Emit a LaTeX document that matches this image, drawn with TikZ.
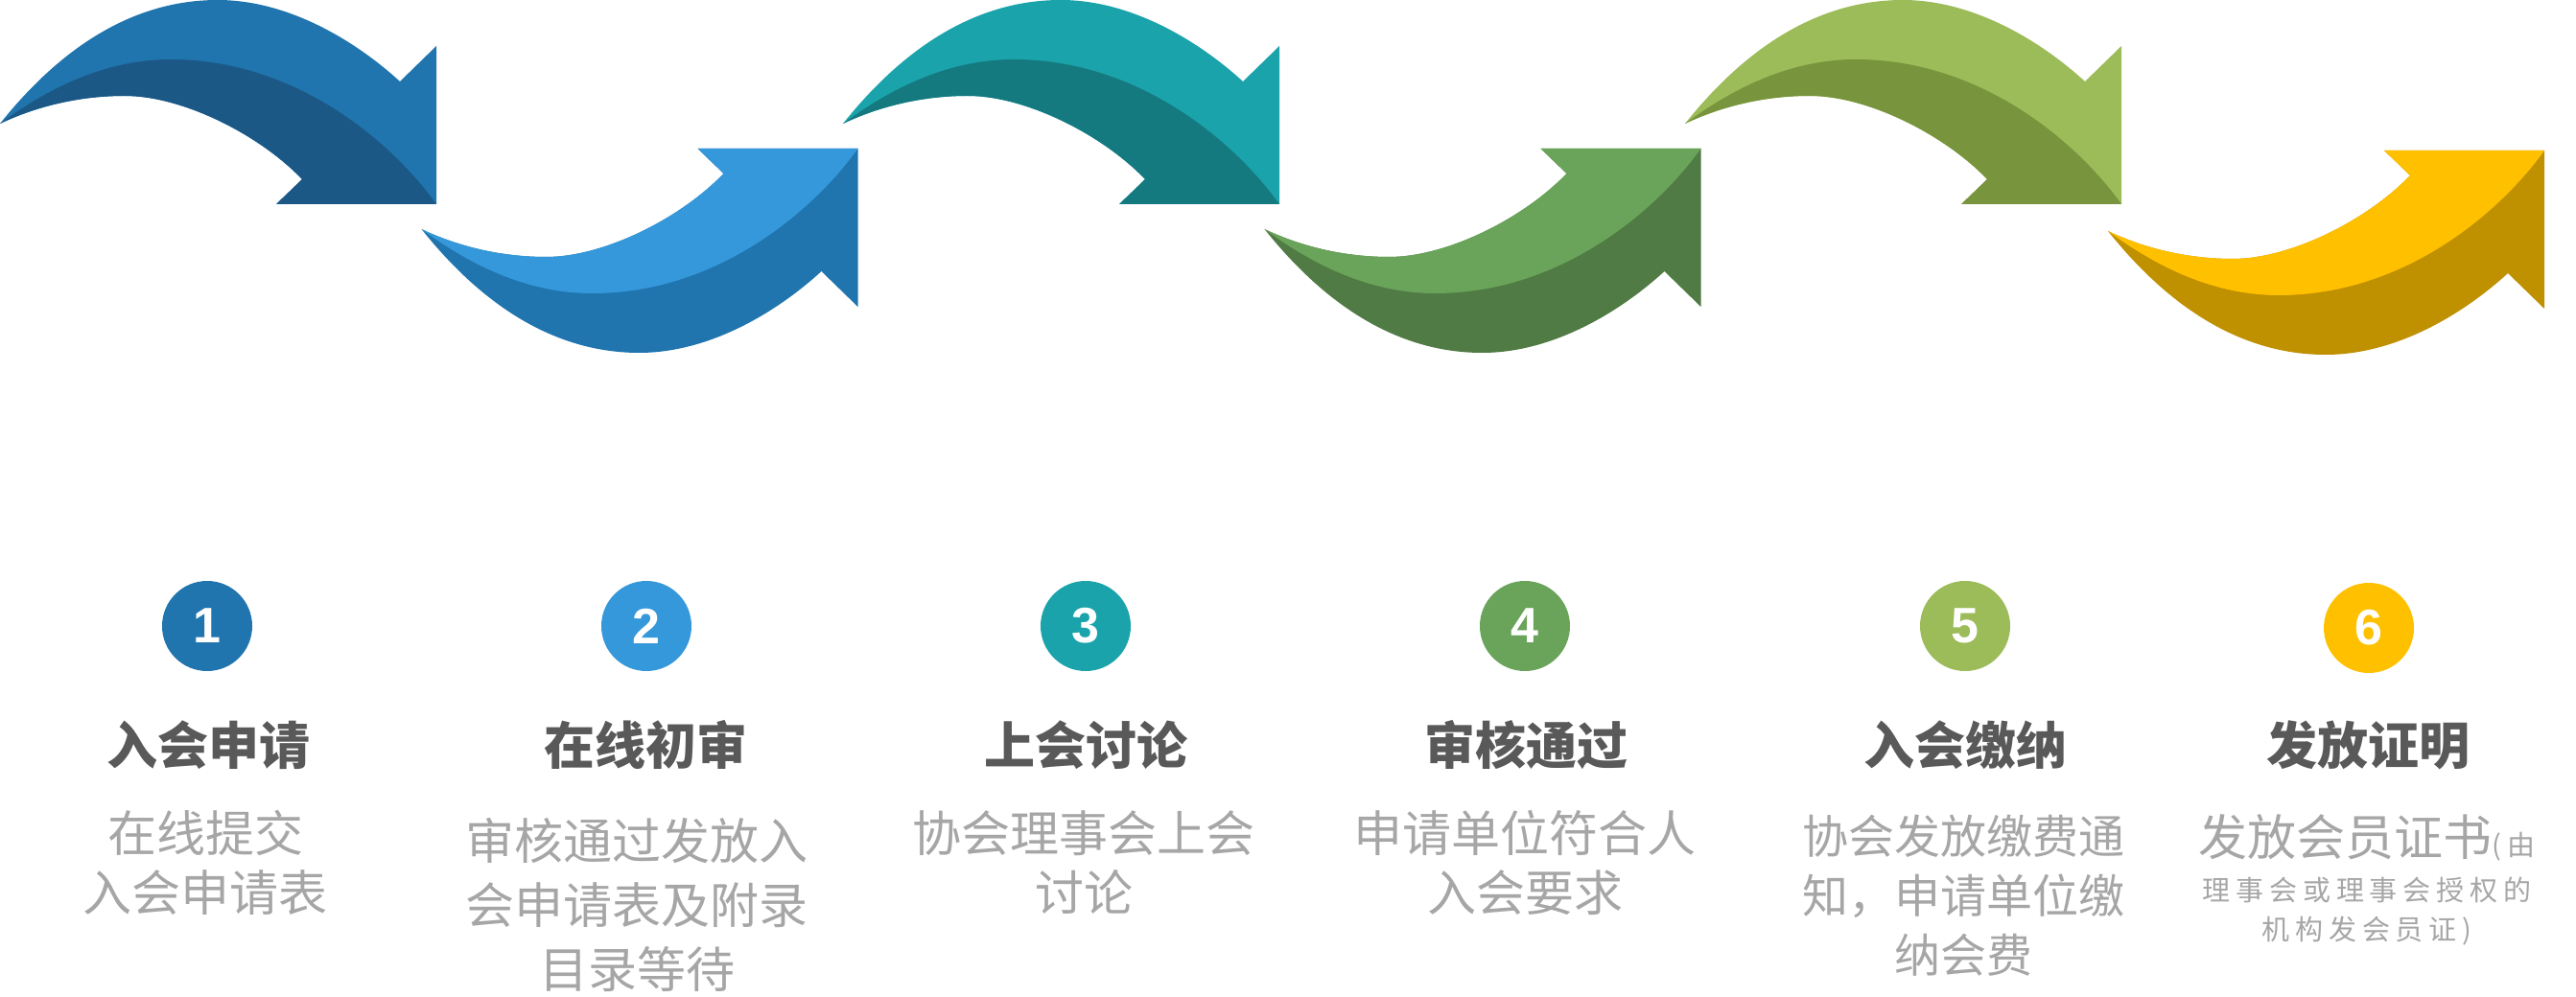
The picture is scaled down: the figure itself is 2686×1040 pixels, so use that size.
\documentclass[tikz,border=0pt]{standalone}
\usepackage{fontspec}
\newfontfamily\cjk{Noto Sans CJK SC}
\newfontfamily\cjkspaced[LetterSpace=20]{Noto Sans CJK SC}
\newfontfamily\numfont{Liberation Sans}
\definecolor{blueA}{HTML}{2175AE}
\definecolor{blueAdark}{HTML}{1B5886}
\definecolor{blueB}{HTML}{3598DB}
\definecolor{tealA}{HTML}{1BA3AB}
\definecolor{tealAdark}{HTML}{157A80}
\definecolor{greenA}{HTML}{6AA35A}
\definecolor{greenAdark}{HTML}{507B44}
\definecolor{oliveA}{HTML}{9CBB59}
\definecolor{oliveAdark}{HTML}{78943D}
\definecolor{goldA}{HTML}{FFC000}
\definecolor{goldAdark}{HTML}{BF9000}
\definecolor{titlegray}{HTML}{595959}
\definecolor{descgray}{HTML}{A6A6A6}
% #1 transform, #2 outer colour, #3 inner colour
\newcommand{\procarrow}[3]{%
  \begin{scope}[#1]
    \fill[#2] (0,129) .. controls (55,60) and (130,0) .. (227,0)
      .. controls (300,0) and (370,42) .. (417,85) -- (455,48) -- (455,213)
      -- (288,213) -- (315,187) .. controls (270,140) and (190,100) .. (130,100)
      .. controls (85,100) and (40,110) .. (0,129) -- cycle;
    \fill[#3] (0,129) .. controls (50,92) and (110,62) .. (178,62)
      .. controls (310,62) and (410,150) .. (455,213)
      -- (288,213) -- (315,187) .. controls (270,140) and (190,100) .. (130,100)
      .. controls (85,100) and (40,110) .. (0,129) -- cycle;
  \end{scope}}
\begin{document}
\begin{tikzpicture}[x=1pt,y=-1pt,
  numcircle/.style={circle, minimum size=94pt, inner sep=0pt, text=white,
    font=\numfont\bfseries\fontsize{52}{52}\selectfont},
  titletext/.style={text=titlegray, inner sep=0pt,
    font=\cjk\bfseries\fontsize{53}{60}\selectfont},
  desctext/.style={text=descgray, inner sep=0pt, align=center,
    font=\cjk\fontsize{51}{62}\selectfont}]
\useasboundingbox[fill=white] (0,0) rectangle (2686,1040);

% arrows
\procarrow{shift={(0,0)}}{blueA}{blueAdark}
\procarrow{shift={(439.5,368)},yscale=-1}{blueA}{blueB}
\procarrow{shift={(879,0)}}{tealA}{tealAdark}
\procarrow{shift={(1318.5,368)},yscale=-1}{greenAdark}{greenA}
\procarrow{shift={(1757,0)}}{oliveA}{oliveAdark}
\procarrow{shift={(2198,370)},yscale=-1}{goldAdark}{goldA}

% number circles
\node[numcircle, fill=blueA]  (n1) at (216,653)  {1};
\node[numcircle, fill=blueB]  (n2) at (674,653)  {2};
\node[numcircle, fill=tealA]  (n3) at (1132,653) {3};
\node[numcircle, fill=greenA] (n4) at (1590,653) {4};
\node[numcircle, fill=oliveA] (n5) at (2049,653) {5};
\node[numcircle, fill=goldA]  (n6) at (2470,655) {6};

% titles
\node[titletext] (t1) at (217,777)  {入会申请};
\node[titletext] (t2) at (673,777)  {在线初审};
\node[titletext] (t3) at (1132,777) {上会讨论};
\node[titletext] (t4) at (1591,777) {审核通过};
\node[titletext] (t5) at (2049,777) {入会缴纳};
\node[titletext] (t6) at (2469,777) {发放证明};

% descriptions
\node[desctext] (d1) at (214,900) {在线提交\\入会申请表};
\node[desctext, font=\cjk\fontsize{51}{67}\selectfont] (d2) at (664,944) {审核通过发放入\\会申请表及附录\\目录等待};
\node[desctext] (d3) at (1130,900) {协会理事会上会\\讨论};
\node[desctext] (d4) at (1590,900) {申请单位符合人\\入会要求};
\node[desctext, font=\cjk\fontsize{48}{62}\selectfont] (d5) at (2047,934) {协会发放缴费通\\知，申请单位缴\\纳会费};
\node[desctext, font=\cjkspaced\fontsize{29}{41}\selectfont] (d6) at (2468,918)
  {{\cjk\fontsize{51}{62}\selectfont 发放会员证书}(由\\[6pt]理事会或理事会授权的\\机构发会员证)};
\end{tikzpicture}
\end{document}
